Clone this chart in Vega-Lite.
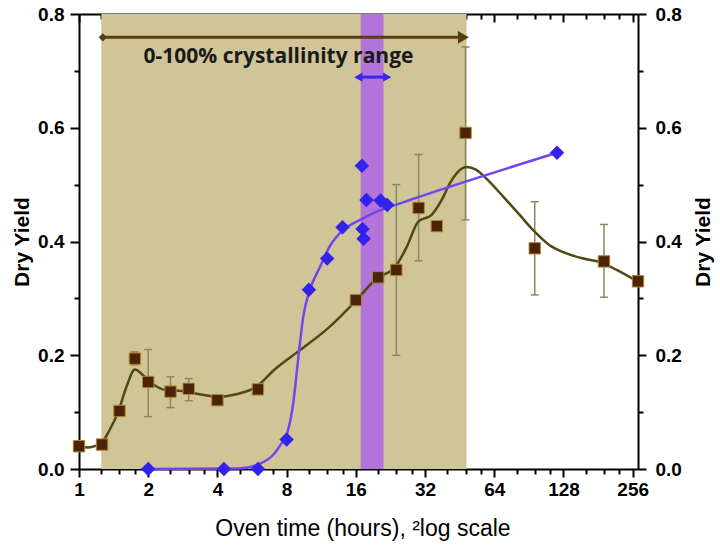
{
  "$schema": "https://vega.github.io/schema/vega-lite/v6.json",
  "width": 559,
  "height": 455,
  "autosize": {"type": "none"},
  "padding": {"left": 79, "top": 14, "right": 82, "bottom": 78},
  "background": "white",
  "config": {
    "view": {"stroke": null},
    "axis": {"grid": false, "domainColor": "black", "domainWidth": 2, "tickColor": "black", "tickWidth": 2, "labelColor": "black", "titleColor": "black", "labelFont": "Liberation Sans", "titleFont": "Liberation Sans", "zindex": 1}
  },
  "datasets": {
    "brown": [
      {"t": 1, "y": 0.04},
      {"t": 1.26, "y": 0.043},
      {"t": 1.5, "y": 0.102},
      {"t": 1.75, "y": 0.194, "lo": 0.183, "hi": 0.206},
      {"t": 2, "y": 0.153, "lo": 0.092, "hi": 0.21},
      {"t": 2.5, "y": 0.136, "lo": 0.108, "hi": 0.162},
      {"t": 3, "y": 0.141, "lo": 0.12, "hi": 0.159},
      {"t": 4, "y": 0.121},
      {"t": 6, "y": 0.14},
      {"t": 16, "y": 0.297},
      {"t": 20, "y": 0.337},
      {"t": 24, "y": 0.35, "lo": 0.2, "hi": 0.5},
      {"t": 30, "y": 0.459, "lo": 0.366, "hi": 0.553},
      {"t": 36, "y": 0.427},
      {"t": 48, "y": 0.591, "lo": 0.438, "hi": 0.742},
      {"t": 96, "y": 0.388, "lo": 0.306, "hi": 0.47},
      {"t": 192, "y": 0.365, "lo": 0.302, "hi": 0.43},
      {"t": 270, "y": 0.33}
    ],
    "brownFit": [
      {"t": 1, "y": 0.039}, {"t": 1.1, "y": 0.038}, {"t": 1.25, "y": 0.046}, {"t": 1.36, "y": 0.069},
      {"t": 1.48, "y": 0.1}, {"t": 1.61, "y": 0.145}, {"t": 1.75, "y": 0.175}, {"t": 1.9, "y": 0.165},
      {"t": 2.07, "y": 0.151}, {"t": 2.37, "y": 0.139}, {"t": 2.8, "y": 0.137}, {"t": 3.3, "y": 0.132},
      {"t": 4.04, "y": 0.127}, {"t": 4.77, "y": 0.131}, {"t": 5.82, "y": 0.143}, {"t": 7.1, "y": 0.175},
      {"t": 9.14, "y": 0.209}, {"t": 12.3, "y": 0.25}, {"t": 16, "y": 0.296}, {"t": 19.7, "y": 0.335},
      {"t": 23.7, "y": 0.355}, {"t": 26.6, "y": 0.39}, {"t": 29.9, "y": 0.435}, {"t": 34.2, "y": 0.447},
      {"t": 37.8, "y": 0.473}, {"t": 41, "y": 0.502}, {"t": 44.6, "y": 0.523}, {"t": 48.5, "y": 0.531},
      {"t": 53.5, "y": 0.526}, {"t": 59, "y": 0.511}, {"t": 70, "y": 0.479}, {"t": 82, "y": 0.448},
      {"t": 94.5, "y": 0.42}, {"t": 111, "y": 0.394}, {"t": 132, "y": 0.379}, {"t": 156, "y": 0.37},
      {"t": 184, "y": 0.364}, {"t": 218, "y": 0.35}, {"t": 270, "y": 0.329}
    ],
    "purple": [
      {"t": 2, "y": 0}, {"t": 4.27, "y": 0}, {"t": 6, "y": 0}, {"t": 8, "y": 0.052},
      {"t": 10, "y": 0.315}, {"t": 12, "y": 0.37}, {"t": 14, "y": 0.425}, {"t": 17, "y": 0.533},
      {"t": 17.8, "y": 0.473}, {"t": 17.1, "y": 0.422}, {"t": 17.3, "y": 0.405}, {"t": 20.5, "y": 0.472},
      {"t": 21.9, "y": 0.464}, {"t": 120, "y": 0.556}
    ],
    "purpleFit": [
      {"t": 2, "y": 0}, {"t": 5, "y": 0.001}, {"t": 5.93, "y": 0.007}, {"t": 7, "y": 0.025},
      {"t": 7.6, "y": 0.045}, {"t": 8, "y": 0.06}, {"t": 8.55, "y": 0.116}, {"t": 9, "y": 0.197},
      {"t": 9.45, "y": 0.268}, {"t": 10.1, "y": 0.315}, {"t": 11.2, "y": 0.356}, {"t": 12.3, "y": 0.391},
      {"t": 14.1, "y": 0.42}, {"t": 16.7, "y": 0.438}, {"t": 20.4, "y": 0.455}, {"t": 24.9, "y": 0.467},
      {"t": 27.5, "y": 0.473}, {"t": 120, "y": 0.556}
    ],
    "bands": [
      {"name": "crystallinity", "start": 1.25, "end": 48.5, "lo": 0, "hi": 0.8}
    ],
    "purpleBand": [
      {"name": "transition", "start": 16.8, "end": 21.1, "lo": 0, "hi": 0.8}
    ],
    "brownArrow": [
      {"start": 1.27, "end": 47, "y": 0.759}
    ],
    "purpleArrow": [
      {"start": 16.4, "end": 21.9, "y": 0.689}
    ],
    "label": [
      {"t": 7.37, "y": 0.724, "text": "0-100% crystallinity range"}
    ]
  },
  "resolve": {"axis": {"x": "independent", "y": "independent"}},
  "layer": [
    {
      "data": {"name": "bands"},
      "mark": {"type": "rect", "color": "#CFC597"},
      "encoding": {
        "x": {"field": "start", "type": "quantitative", "scale": {"type": "log", "base": 2, "domain": [1, 270], "nice": false}, "axis": null},
        "x2": {"field": "end"},
        "y": {"field": "lo", "type": "quantitative", "scale": {"domain": [0, 0.8], "nice": false, "zero": false}, "axis": null},
        "y2": {"field": "hi"}
      }
    },
    {
      "data": {"name": "purpleBand"},
      "mark": {"type": "rect", "color": "#B274D9"},
      "encoding": {
        "x": {"field": "start", "type": "quantitative", "axis": null},
        "x2": {"field": "end"},
        "y": {"field": "lo", "type": "quantitative", "axis": null},
        "y2": {"field": "hi"}
      }
    },
    {
      "data": {"name": "brownArrow"},
      "mark": {"type": "rule", "color": "#5a3c0f", "strokeWidth": 3},
      "encoding": {
        "x": {"field": "start", "type": "quantitative", "axis": null},
        "x2": {"field": "end"},
        "y": {"field": "y", "type": "quantitative", "axis": null}
      }
    },
    {
      "data": {"name": "brownArrow"},
      "mark": {"type": "point", "shape": "diamond", "filled": true, "color": "#5a3c0f", "size": 70, "opacity": 1},
      "encoding": {
        "x": {"field": "start", "type": "quantitative", "axis": null},
        "y": {"field": "y", "type": "quantitative", "axis": null}
      }
    },
    {
      "data": {"name": "brownArrow"},
      "mark": {"type": "point", "shape": "triangle-right", "filled": true, "color": "#5a3c0f", "size": 160, "opacity": 1},
      "encoding": {
        "x": {"field": "end", "type": "quantitative", "axis": null},
        "y": {"field": "y", "type": "quantitative", "axis": null}
      }
    },
    {
      "data": {"name": "label"},
      "mark": {"type": "text", "font": "Open Sans", "fontWeight": "bold", "fontSize": 21, "color": "#1a1a1a", "align": "center", "baseline": "middle"},
      "encoding": {
        "x": {"field": "t", "type": "quantitative", "axis": null},
        "y": {"field": "y", "type": "quantitative", "axis": null},
        "text": {"field": "text"}
      }
    },
    {
      "data": {"name": "brown"},
      "transform": [{"filter": "isValid(datum.lo)"}],
      "mark": {"type": "rule", "color": "#8a8a62", "strokeWidth": 1.5},
      "encoding": {
        "x": {"field": "t", "type": "quantitative", "axis": null},
        "y": {"field": "lo", "type": "quantitative", "axis": null},
        "y2": {"field": "hi"}
      }
    },
    {
      "data": {"name": "brown"},
      "transform": [{"filter": "isValid(datum.lo)"}],
      "mark": {"type": "tick", "orient": "horizontal", "color": "#8a8a62", "thickness": 1.5, "size": 8, "opacity": 1},
      "encoding": {
        "x": {"field": "t", "type": "quantitative", "axis": null},
        "y": {"field": "lo", "type": "quantitative", "axis": null}
      }
    },
    {
      "data": {"name": "brown"},
      "transform": [{"filter": "isValid(datum.hi)"}],
      "mark": {"type": "tick", "orient": "horizontal", "color": "#8a8a62", "thickness": 1.5, "size": 8, "opacity": 1},
      "encoding": {
        "x": {"field": "t", "type": "quantitative", "axis": null},
        "y": {"field": "hi", "type": "quantitative", "axis": null}
      }
    },
    {
      "data": {"name": "brownFit"},
      "mark": {"type": "line", "color": "#4f4912", "strokeWidth": 2.5, "interpolate": "monotone"},
      "encoding": {
        "x": {
          "field": "t", "type": "quantitative",
          "axis": {
            "orient": "bottom",
            "values": [1, 1.25, 1.5, 1.75, 2, 2.5, 3, 3.5, 4, 5, 6, 7, 8, 10, 12, 14, 16, 20, 24, 28, 32, 40, 48, 56, 64, 80, 96, 112, 128, 160, 192, 224, 256],
            "labelExpr": "abs(round(log(datum.value)/LN2) - log(datum.value)/LN2) < 0.001 ? format(datum.value, 'd') : ''",
            "tickSize": {"condition": {"test": "abs(round(log(datum.value)/LN2) - log(datum.value)/LN2) < 0.001", "value": 8}, "value": 5},
            "labelOverlap": false, "labelFlush": false, "labelBound": false,
            "labelFontSize": 19, "labelFontWeight": "bold", "labelPadding": 3,
            "title": "Oven time (hours), ²log scale",
            "titleFontSize": 23, "titleFontWeight": "normal",
            "titleX": 283.5, "titleY": 59, "titleAlign": "center", "titleBaseline": "middle"
          }
        },
        "y": {
          "field": "y", "type": "quantitative",
          "axis": {
            "orient": "left",
            "values": [0, 0.1, 0.2, 0.3, 0.4, 0.5, 0.6, 0.7, 0.8],
            "labelExpr": "round(datum.value*10) % 2 == 0 ? format(datum.value, '.1f') : ''",
            "tickSize": {"condition": {"test": "round(datum.value*10) % 2 == 0", "value": 9}, "value": 5},
            "labelOverlap": false, "labelFlush": false, "labelBound": false,
            "labelFontSize": 19, "labelFontWeight": "bold", "labelPadding": 6,
            "title": "Dry Yield", "titleFontSize": 21, "titleFontWeight": "bold",
            "titleX": -57, "titleY": 227.5, "titleAngle": -90, "titleAlign": "center", "titleBaseline": "middle"
          }
        }
      }
    },
    {
      "data": {"name": "purpleFit"},
      "mark": {"type": "line", "color": "#7444f2", "strokeWidth": 2.5, "interpolate": "monotone"},
      "encoding": {
        "x": {"field": "t", "type": "quantitative", "axis": null},
        "y": {"field": "y", "type": "quantitative", "axis": null}
      }
    },
    {
      "data": {"name": "brown"},
      "mark": {"type": "point", "shape": "square", "filled": true, "fill": "#4a2407", "stroke": "#b5842e", "strokeWidth": 1, "size": 130, "opacity": 1},
      "encoding": {
        "x": {
          "field": "t", "type": "quantitative",
          "axis": {
            "orient": "top",
            "values": [1, 1.25, 1.5, 1.75, 2, 2.5, 3, 3.5, 4, 5, 6, 7, 8, 10, 12, 14, 16, 20, 24, 28, 32, 40, 48, 56, 64, 80, 96, 112, 128, 160, 192, 224, 256],
            "labels": false,
            "tickSize": {"condition": {"test": "abs(round(log(datum.value)/LN2) - log(datum.value)/LN2) < 0.001", "value": -8}, "value": -5},
            "title": null
          }
        },
        "y": {
          "field": "y", "type": "quantitative",
          "axis": {
            "orient": "right",
            "values": [0, 0.1, 0.2, 0.3, 0.4, 0.5, 0.6, 0.7, 0.8],
            "labelExpr": "round(datum.value*10) % 2 == 0 ? format(datum.value, '.1f') : ''",
            "tickSize": {"condition": {"test": "round(datum.value*10) % 2 == 0", "value": 8}, "value": 5},
            "labelOverlap": false, "labelFlush": false, "labelBound": false,
            "labelFontSize": 19, "labelFontWeight": "bold", "labelPadding": 9,
            "title": "Dry Yield", "titleFontSize": 21, "titleFontWeight": "bold",
            "titleX": 65, "titleY": 227.5, "titleAngle": -90, "titleAlign": "center", "titleBaseline": "middle"
          }
        }
      }
    },
    {
      "data": {"name": "purple"},
      "mark": {"type": "point", "shape": "diamond", "filled": true, "color": "#3322ee", "size": 210, "opacity": 1},
      "encoding": {
        "x": {"field": "t", "type": "quantitative", "axis": null},
        "y": {"field": "y", "type": "quantitative", "axis": null}
      }
    },
    {
      "data": {"name": "purpleArrow"},
      "mark": {"type": "rule", "color": "#3a26ee", "strokeWidth": 3},
      "encoding": {
        "x": {"field": "start", "type": "quantitative", "axis": null},
        "x2": {"field": "end"},
        "y": {"field": "y", "type": "quantitative", "axis": null}
      }
    },
    {
      "data": {"name": "purpleArrow"},
      "mark": {"type": "point", "shape": "triangle-left", "filled": true, "color": "#3a26ee", "size": 90, "opacity": 1},
      "encoding": {
        "x": {"field": "start", "type": "quantitative", "axis": null},
        "y": {"field": "y", "type": "quantitative", "axis": null}
      }
    },
    {
      "data": {"name": "purpleArrow"},
      "mark": {"type": "point", "shape": "triangle-right", "filled": true, "color": "#3a26ee", "size": 90, "opacity": 1},
      "encoding": {
        "x": {"field": "end", "type": "quantitative", "axis": null},
        "y": {"field": "y", "type": "quantitative", "axis": null}
      }
    }
  ]
}
